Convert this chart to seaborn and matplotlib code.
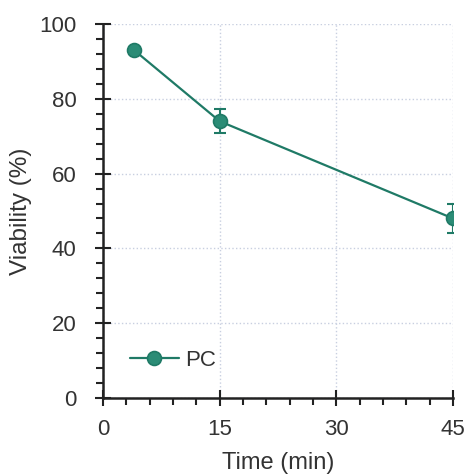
import numpy as np
import pandas as pd
import seaborn as sns
import matplotlib.pyplot as plt
from matplotlib.ticker import MultipleLocator

# Data
time_min = [4, 15, 45]
viability = [93, 74, 48]
viability_err = [0.8, 3.2, 3.8]
series = ["PC", "PC", "PC"]

df = pd.DataFrame({"Time": time_min, "Viability": viability, "err": viability_err, "Series": series})

sns.set_style("white")
plt.rcParams['font.family'] = ['Liberation Sans', 'DejaVu Sans']

color = "#1f7a66"

fig = plt.figure(figsize=(4.67, 4.76), dpi=100)
ax = fig.add_axes([0.2206, 0.1639, 0.7495, 0.7857])

# error bars first, then line + markers on top
ax.errorbar(df["Time"], df["Viability"], yerr=df["err"], fmt="none",
            ecolor=color, elinewidth=1.5, capsize=4, capthick=1.5, zorder=2)
sns.lineplot(data=df, x="Time", y="Viability", hue="Series", palette=[color],
             marker="o", markersize=10, markerfacecolor="#2b8c76",
             markeredgecolor=color, markeredgewidth=1.2, linewidth=1.6,
             ax=ax, zorder=3)

ax.set_xlim(0, 45)
ax.set_ylim(0, 100)
ax.xaxis.set_major_locator(MultipleLocator(15))
ax.xaxis.set_minor_locator(MultipleLocator(3))
ax.yaxis.set_major_locator(MultipleLocator(20))
ax.yaxis.set_minor_locator(MultipleLocator(4))

ax.tick_params(which="both", bottom=True, left=True)
ax.tick_params(which="major", direction="inout", length=12, width=1.5, labelsize=16, colors="#222222")
ax.tick_params(which="minor", direction="out", length=5, width=1.5, colors="#222222")
ax.tick_params(axis="x", which="major", pad=9)
ax.tick_params(axis="y", which="major", pad=13)
for lab in ax.get_xticklabels() + ax.get_yticklabels():
    lab.set_color("#333333")

for s in ["top", "right"]:
    ax.spines[s].set_visible(False)
for s in ["left", "bottom"]:
    ax.spines[s].set_color("#222222")
    ax.spines[s].set_linewidth(1.8)

ax.grid(True, which="major", linestyle=":", color="#c8cfe0", linewidth=1.0)
ax.set_axisbelow(True)

ax.set_xlabel("Time (min)", fontsize=17, color="#333333", labelpad=9)
ax.set_ylabel("Viability (%)", fontsize=17.5, color="#333333", labelpad=5)

leg = ax.legend(loc="lower left", bbox_to_anchor=(0.02, 0.02), frameon=False,
                fontsize=16, handlelength=2.2, handletextpad=0.3)
for t in leg.get_texts():
    t.set_color("#333333")

fig.savefig("out.png", dpi=100)
